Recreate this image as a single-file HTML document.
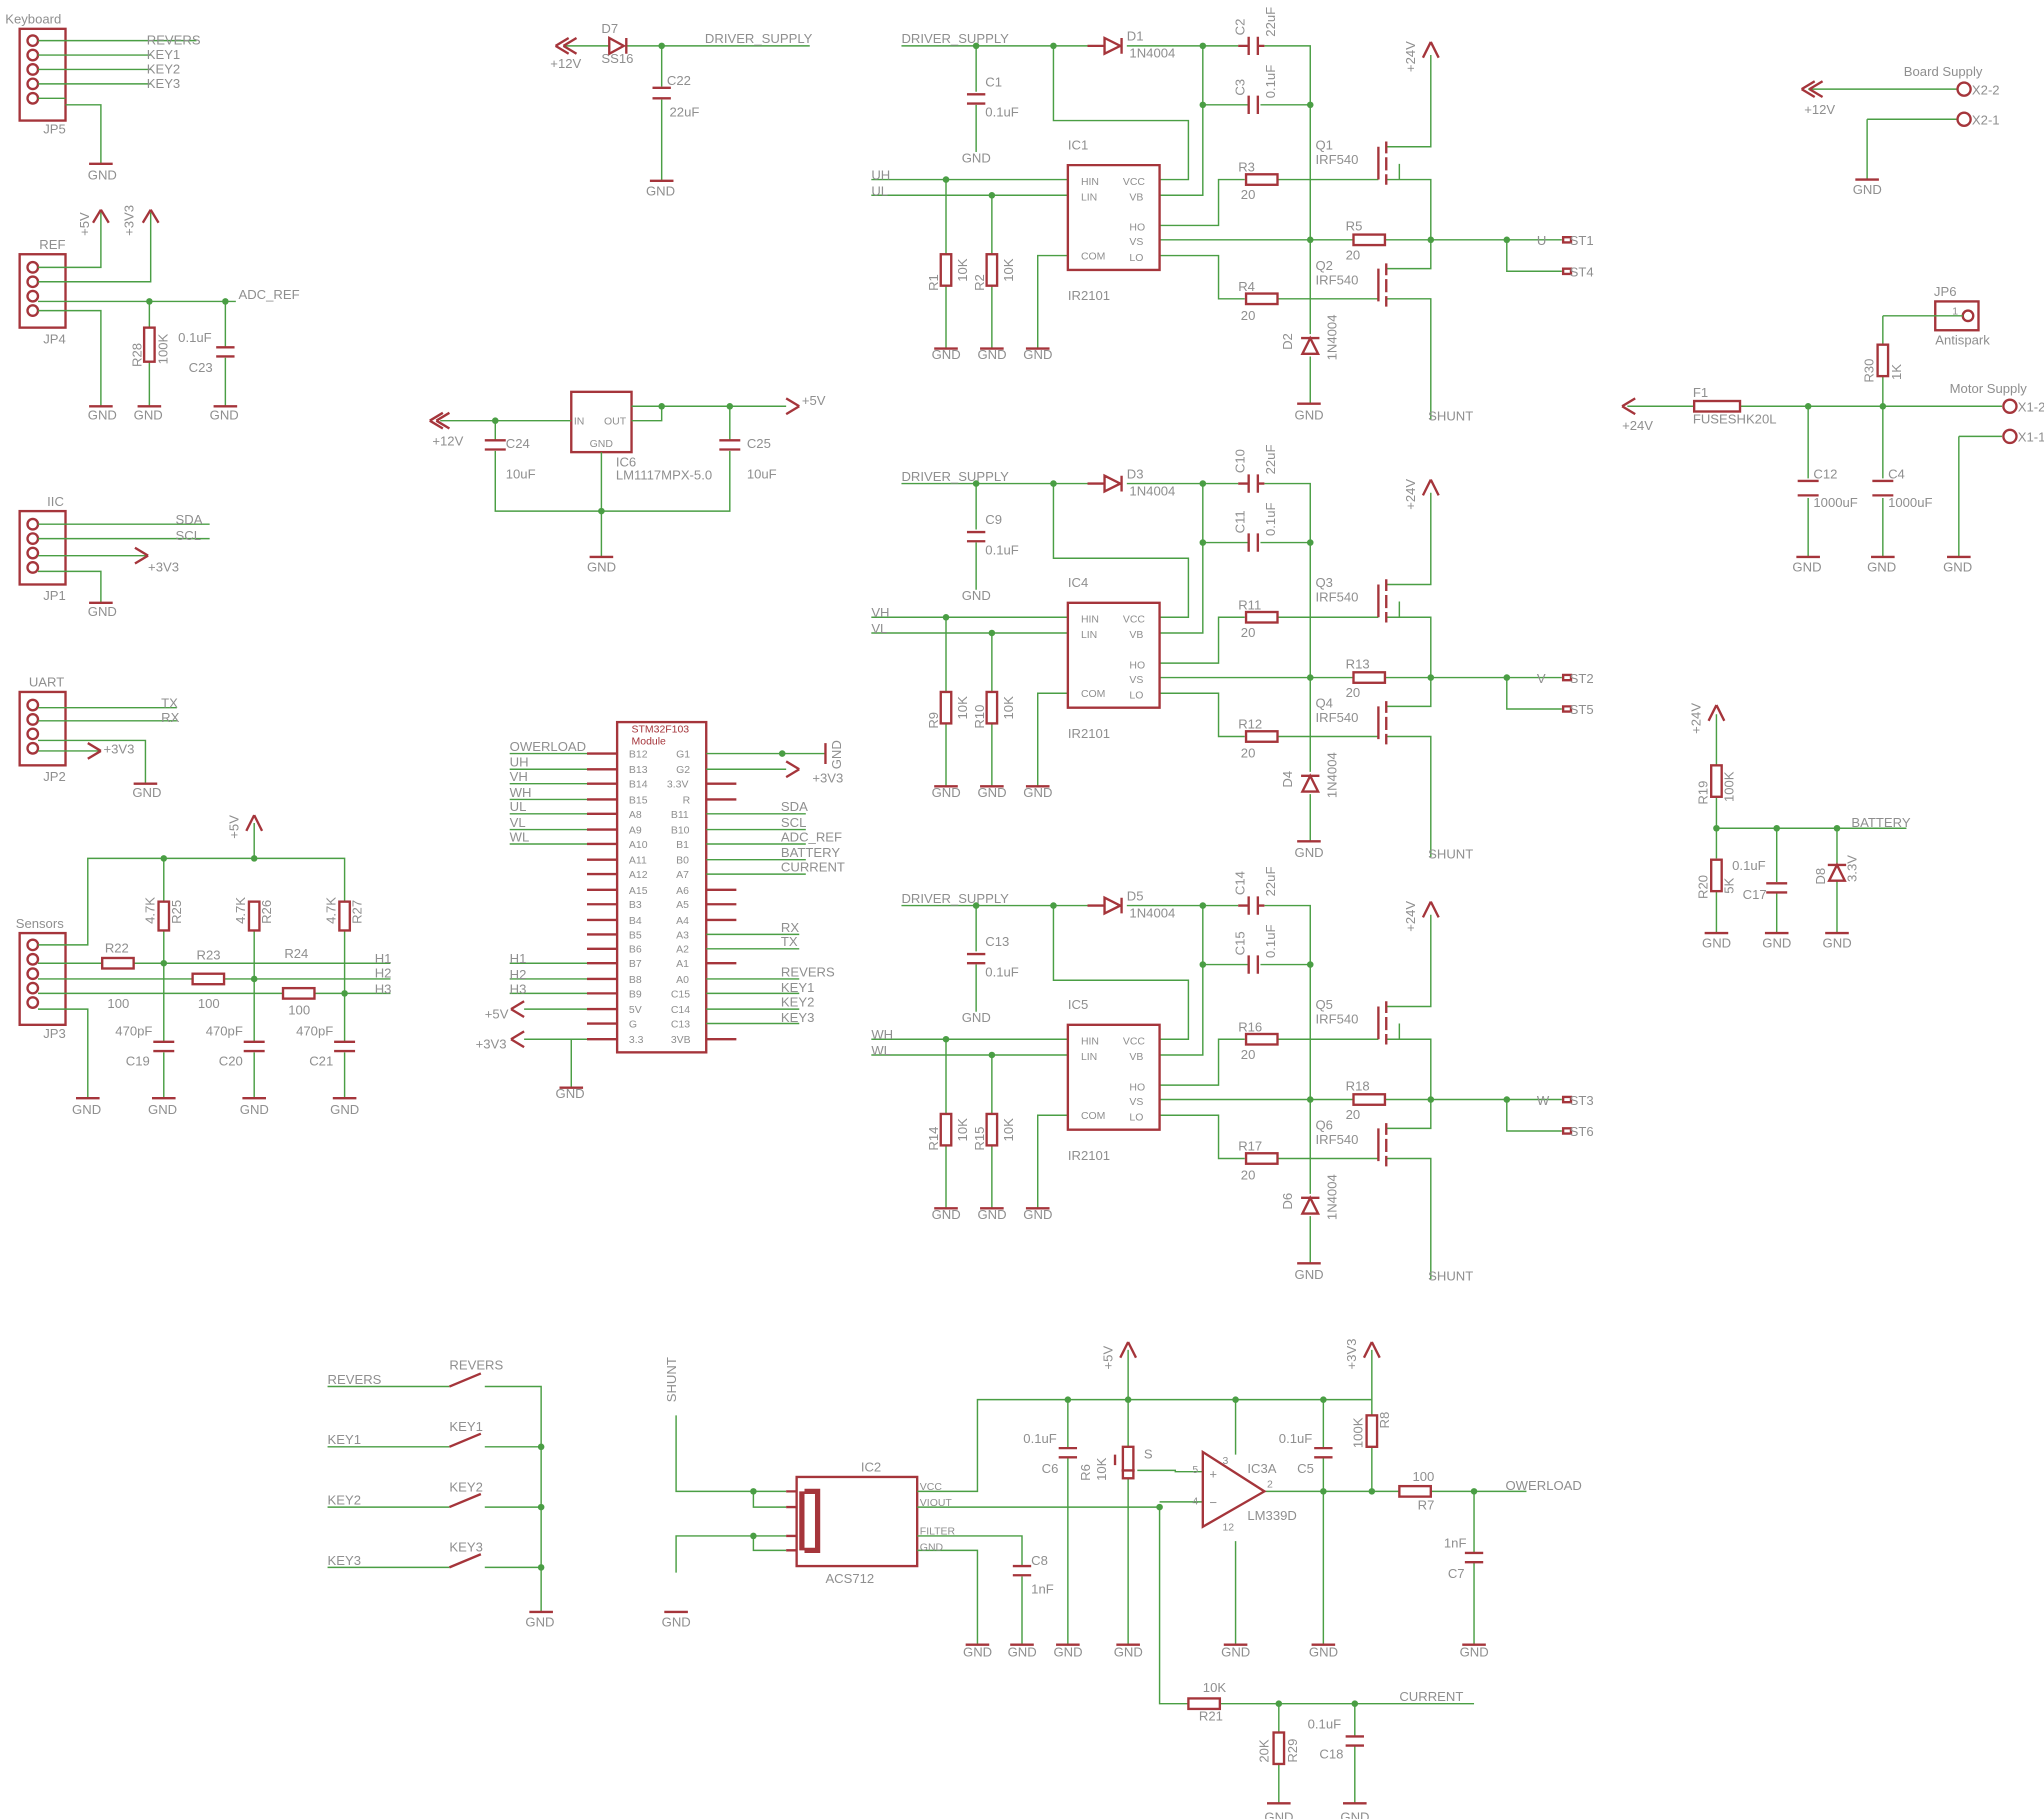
<!DOCTYPE html>
<html><head><meta charset="utf-8"><style>
html,body{margin:0;padding:0;background:#fff}
svg{display:block}
.w{stroke:#4a9e44;fill:none;stroke-width:1.1}
.p{stroke:#a5353b;fill:none;stroke-width:1.8}
.f{fill:#a5353b}
.j{fill:#4a9e44}
text{font-family:"Liberation Sans",sans-serif;font-size:10px;fill:#8f8f8f}
.s{font-size:8px}
</style></head><body>
<svg width="2044" height="1819" viewBox="0 0 1560 1388" preserveAspectRatio="none" xmlns="http://www.w3.org/2000/svg">
<defs>
<g id="drv">
<path class="w" d="M688 35H830M860 35H945M965 35H1000V255M1000 272V308M745 35V70M745 80V116M804 35V92H907V137H885M918 35V149H885M918 80H953M962 80H1000M665 137H815M665 149H815M722 137V194M722 218V266M757 149V194M757 218V266M815 195H792V266M885 172H930V137H950M975 137H1052M885 183H1033M1057 183H1150V207H1192M1150 183H1192M885 195H930V228H950M975 228H1052M1058 112H1092V42M1058 137H1092V183M1058 205H1092V183M1058 228H1092V320M1068 125V137"/>
<path class="p" d="M830 35H843M843 29V41L855 35Z M856 29V41M945 35H953M953 28V42M960 28V42M960 35H965M738 72H752M738 79H752M953 73V87M960 73V87M815 126H885V206H815Z M1052 112V137M1058 108V117M1058 120V130M1058 133V141M1052 205V230M1058 201V210M1058 213V223M1058 226V234M1092 32L1086 44M1092 32L1098 44M993 258H1007M1000 258L994 270H1006Z M1193 181h6v4h-6z M1193 205h6v4h-6z"/>
<rect class="p" x="718" y="194" width="8" height="24"/><rect class="p" x="753" y="194" width="8" height="24"/>
<rect class="p" x="951" y="133" width="24" height="8"/><rect class="p" x="1033" y="179" width="24" height="8"/><rect class="p" x="951" y="224" width="24" height="8"/>
<path class="p" d="M713 266H731M748 266H766M783 266H801M990 308H1008"/>
<circle class="j" cx="745" cy="35" r="2.5"/><circle class="j" cx="804" cy="35" r="2.5"/><circle class="j" cx="918" cy="35" r="2.5"/><circle class="j" cx="918" cy="80" r="2.5"/><circle class="j" cx="1000" cy="80" r="2.5"/><circle class="j" cx="722" cy="137" r="2.5"/><circle class="j" cx="757" cy="149" r="2.5"/><circle class="j" cx="1000" cy="183" r="2.5"/><circle class="j" cx="1092" cy="183" r="2.5"/><circle class="j" cx="1150" cy="183" r="2.5"/>
<text x="688" y="33">DRIVER_SUPPLY</text><text x="752" y="89">0.1uF</text>
<text x="825" y="141" class="s">HIN</text><text x="825" y="153" class="s">LIN</text><text x="825" y="198" class="s">COM</text>
<text x="857" y="141" class="s">VCC</text><text x="862" y="153" class="s">VB</text><text x="862" y="176" class="s">HO</text><text x="862" y="187" class="s">VS</text><text x="862" y="199" class="s">LO</text>
<text x="815" y="229">IR2101</text><text x="947" y="152">20</text><text x="1027" y="198">20</text><text x="947" y="244">20</text>
<text x="1004" y="125">IRF540</text><text x="1004" y="217">IRF540</text>
<text x="1090" y="321">SHUNT</text><text x="711" y="274">GND</text><text x="746" y="274">GND</text><text x="781" y="274">GND</text><text x="988" y="320">GND</text><text x="734" y="124">GND</text>
<text transform="translate(1080,55) rotate(-90)">+24V</text><text transform="translate(1020,275) rotate(-90)">1N4004</text>
<text transform="translate(738,215) rotate(-90)">10K</text><text transform="translate(773,215) rotate(-90)">10K</text>
<text transform="translate(973,75) rotate(-90)">0.1uF</text><text transform="translate(973,28) rotate(-90)">22uF</text>
</g>
</defs>

<use href="#drv"/>
<g><text x="862" y="44">1N4004</text><text x="860" y="31">D1</text><text x="815" y="114">IC1</text><text x="665" y="137">UH</text><text x="665" y="149">UL</text><text x="1173" y="187">U</text><text x="1198" y="187">ST1</text><text x="1198" y="211">ST4</text><text x="752" y="66">C1</text><text x="945" y="131">R3</text><text x="1027" y="176">R5</text><text x="945" y="222">R4</text><text x="1004" y="114">Q1</text><text x="1004" y="206">Q2</text><text transform="translate(716,222) rotate(-90)">R1</text><text transform="translate(751,222) rotate(-90)">R2</text><text transform="translate(950,27) rotate(-90)">C2</text><text transform="translate(950,73) rotate(-90)">C3</text><text transform="translate(986,267) rotate(-90)">D2</text></g>
<g transform="translate(0,334)"><use href="#drv"/><text x="862" y="44">1N4004</text><text x="860" y="31">D3</text><text x="815" y="114">IC4</text><text x="665" y="137">VH</text><text x="665" y="149">VL</text><text x="1173" y="187">V</text><text x="1198" y="187">ST2</text><text x="1198" y="211">ST5</text><text x="752" y="66">C9</text><text x="945" y="131">R11</text><text x="1027" y="176">R13</text><text x="945" y="222">R12</text><text x="1004" y="114">Q3</text><text x="1004" y="206">Q4</text><text transform="translate(716,222) rotate(-90)">R9</text><text transform="translate(751,222) rotate(-90)">R10</text><text transform="translate(950,27) rotate(-90)">C10</text><text transform="translate(950,73) rotate(-90)">C11</text><text transform="translate(986,267) rotate(-90)">D4</text></g>
<g transform="translate(0,656)"><use href="#drv"/><text x="862" y="44">1N4004</text><text x="860" y="31">D5</text><text x="815" y="114">IC5</text><text x="665" y="137">WH</text><text x="665" y="149">WL</text><text x="1173" y="187">W</text><text x="1198" y="187">ST3</text><text x="1198" y="211">ST6</text><text x="752" y="66">C13</text><text x="945" y="131">R16</text><text x="1027" y="176">R18</text><text x="945" y="222">R17</text><text x="1004" y="114">Q5</text><text x="1004" y="206">Q6</text><text transform="translate(716,222) rotate(-90)">R14</text><text transform="translate(751,222) rotate(-90)">R15</text><text transform="translate(950,27) rotate(-90)">C14</text><text transform="translate(950,73) rotate(-90)">C15</text><text transform="translate(986,267) rotate(-90)">D6</text></g>

<!-- Keyboard JP5 -->
<rect class="p" x="15" y="22" width="35" height="70"/>
<g class="p"><circle cx="25" cy="31" r="4"/><circle cx="25" cy="42" r="4"/><circle cx="25" cy="53" r="4"/><circle cx="25" cy="64" r="4"/><circle cx="25" cy="75" r="4"/></g>
<path class="w" d="M29 31H150M29 42H115M29 53H115M29 64H115M29 75H50M50 80H77V125"/><path class="p" d="M68 125H86"/>
<text x="4" y="18">Keyboard</text><text x="33" y="102">JP5</text><text x="112" y="34">REVERS</text><text x="112" y="45">KEY1</text><text x="112" y="56">KEY2</text><text x="112" y="67">KEY3</text><text x="67" y="137">GND</text>
<!-- REF JP4 -->
<rect class="p" x="15" y="194" width="35" height="56"/>
<g class="p"><circle cx="25" cy="204" r="4"/><circle cx="25" cy="215" r="4"/><circle cx="25" cy="226" r="4"/><circle cx="25" cy="237" r="4"/></g>
<path class="w" d="M29 204H77V162M29 215H115V162M29 230H180M29 237H77V310M114 230V250M114 276V310M172 230V265M172 273V310"/>
<path class="p" d="M77 160L71 170M77 160L83 170M115 160L109 170M115 160L121 170M165 265H179M165 272H179M68 310H86M105 310H123M163 310H181"/>
<rect class="p" x="110" y="250" width="8" height="26"/><circle class="j" cx="114" cy="230" r="2.5"/><circle class="j" cx="172" cy="230" r="2.5"/>
<text x="30" y="190">REF</text><text x="33" y="262">JP4</text><text x="182" y="228">ADC_REF</text><text x="136" y="261">0.1uF</text><text x="144" y="284">C23</text><text x="67" y="320">GND</text><text x="102" y="320">GND</text><text x="160" y="320">GND</text>
<text transform="translate(68,180) rotate(-90)">+5V</text><text transform="translate(102,180) rotate(-90)">+3V3</text><text transform="translate(108,280) rotate(-90)">R28</text><text transform="translate(128,278) rotate(-90)">100K</text>
<!-- IIC JP1 -->
<rect class="p" x="15" y="390" width="35" height="56"/>
<g class="p"><circle cx="25" cy="400" r="4"/><circle cx="25" cy="411" r="4"/><circle cx="25" cy="422" r="4"/><circle cx="25" cy="433" r="4"/></g>
<path class="w" d="M29 400H160M29 411H160M29 424H113M29 436H77V460"/><path class="p" d="M113 424L103 418M113 424L103 430M68 460H86"/>
<text x="36" y="386">IIC</text><text x="33" y="458">JP1</text><text x="134" y="400">SDA</text><text x="134" y="412">SCL</text><text x="113" y="436">+3V3</text><text x="67" y="470">GND</text>
<!-- UART JP2 -->
<rect class="p" x="15" y="528" width="35" height="56"/>
<g class="p"><circle cx="25" cy="538" r="4"/><circle cx="25" cy="549" r="4"/><circle cx="25" cy="560" r="4"/><circle cx="25" cy="571" r="4"/></g>
<path class="w" d="M29 540H135M29 550H135M29 573H77M29 565H111V598"/><path class="p" d="M77 573L67 567M77 573L67 579M102 598H120"/>
<text x="22" y="524">UART</text><text x="33" y="596">JP2</text><text x="123" y="540">TX</text><text x="123" y="551">RX</text><text x="79" y="575">+3V3</text><text x="101" y="608">GND</text>
<!-- Sensors JP3 -->
<rect class="p" x="15" y="712" width="35" height="70"/>
<g class="p"><circle cx="25" cy="721" r="4"/><circle cx="25" cy="732" r="4"/><circle cx="25" cy="743" r="4"/><circle cx="25" cy="754" r="4"/><circle cx="25" cy="765" r="4"/></g>
<path class="w" d="M29 721H67V655H263V688M125 655V688M194 655V628M29 735H78M102 735H298M29 747H147M171 747H298M29 758H216M240 758H298M29 770H67V838M125 710V795M194 710V795M263 710V795M125 803V838M194 803V838M263 803V838"/>
<path class="p" d="M194 622L188 634M194 622L200 634M117 795H133M117 802H133M186 795H202M186 802H202M255 795H271M255 802H271M58 838H76M116 838H134M185 838H203M254 838H272"/>
<rect class="p" x="78" y="731" width="24" height="8"/><rect class="p" x="147" y="743" width="24" height="8"/><rect class="p" x="216" y="754" width="24" height="8"/>
<rect class="p" x="121" y="688" width="8" height="22"/><rect class="p" x="190" y="688" width="8" height="22"/><rect class="p" x="259" y="688" width="8" height="22"/>
<g class="j"><circle cx="125" cy="655" r="2.5"/><circle cx="194" cy="655" r="2.5"/><circle cx="125" cy="735" r="2.5"/><circle cx="194" cy="747" r="2.5"/><circle cx="263" cy="758" r="2.5"/></g>
<text x="12" y="708">Sensors</text><text x="33" y="792">JP3</text><text x="80" y="727">R22</text><text x="150" y="732">R23</text><text x="217" y="731">R24</text><text x="82" y="769">100</text><text x="151" y="769">100</text><text x="220" y="774">100</text>
<text x="286" y="735">H1</text><text x="286" y="746">H2</text><text x="286" y="758">H3</text><text x="88" y="790">470pF</text><text x="157" y="790">470pF</text><text x="226" y="790">470pF</text><text x="96" y="813">C19</text><text x="167" y="813">C20</text><text x="236" y="813">C21</text>
<text x="55" y="850">GND</text><text x="113" y="850">GND</text><text x="183" y="850">GND</text><text x="252" y="850">GND</text>
<text transform="translate(182,640) rotate(-90)">+5V</text><text transform="translate(118,705) rotate(-90)">4.7K</text><text transform="translate(138,705) rotate(-90)">R25</text><text transform="translate(187,705) rotate(-90)">4.7K</text><text transform="translate(207,705) rotate(-90)">R26</text><text transform="translate(256,705) rotate(-90)">4.7K</text><text transform="translate(276,705) rotate(-90)">R27</text>
<!-- D7 / C22 -->
<path class="w" d="M430 35H465M478 35H618M505 35V66M505 76V138"/>
<path class="p" d="M430 35L440 29M430 35L440 41M424 35L434 29M424 35L434 41M465 29V41L476 35Z M478 29V41M498 67H512M498 75H512M496 138H514"/>
<circle class="j" cx="505" cy="35" r="2.5"/>
<text x="459" y="25">D7</text><text x="459" y="48">SS16</text><text x="538" y="33">DRIVER_SUPPLY</text><text x="509" y="65">C22</text><text x="511" y="89">22uF</text><text x="420" y="52">+12V</text><text x="493" y="149">GND</text>
<!-- Regulator IC6 -->
<rect class="p" x="436" y="299" width="46" height="46"/>
<path class="w" d="M336 321H436M482 310H600M505 310V321H482M378 321V336M378 344V390H557V344M557 336V310M459 345V425"/>
<path class="p" d="M610 310L600 304M610 310L600 316M333 321L343 315M333 321L343 327M328 321L338 315M328 321L338 327M370 336H386M370 343H386M549 336H565M549 343H565M450 425H468"/>
<g class="j"><circle cx="378" cy="321" r="2.5"/><circle cx="505" cy="310" r="2.5"/><circle cx="557" cy="310" r="2.5"/><circle cx="459" cy="390" r="2.5"/></g>
<text x="438" y="324" class="s">IN</text><text x="461" y="324" class="s">OUT</text><text x="450" y="341" class="s">GND</text><text x="470" y="356">IC6</text><text x="470" y="366">LM1117MPX-5.0</text><text x="612" y="309">+5V</text><text x="330" y="340">+12V</text><text x="386" y="342">C24</text><text x="386" y="365">10uF</text><text x="570" y="342">C25</text><text x="570" y="365">10uF</text><text x="448" y="436">GND</text>
<!-- STM32 module -->
<rect class="p" x="471" y="551" width="68" height="252"/>
<text x="482" y="559" class="s" style="fill:#a5353b">STM32F103</text><text x="482" y="568" class="s" style="fill:#a5353b">Module</text>
<path class="w" d="M389 575H448M389 587H448M389 598H448M389 610H448M389 621H448M389 633H448M389 644H448M389 735H448M389 747H448M389 758H448M400 770H448M400 793H448M436 793V830M539 575H630M539 587H600M539 621H615M539 633H615M539 644H615M539 656H615M539 667H615M539 713H610M539 724H610M539 747H610M539 758H610M539 770H610M539 781H610"/>
<path class="p" d="M448 575H471M448 587H471M448 598H471M448 610H471M448 621H471M448 633H471M448 644H471M448 656H471M448 667H471M448 679H471M448 690H471M448 702H471M448 713H471M448 724H471M448 735H471M448 747H471M448 758H471M448 770H471M448 781H471M448 793H471M539 598H562M539 610H562M539 679H562M539 690H562M539 702H562M539 735H562M539 793H562M630 567V583M610 587L600 581M610 587L600 593M390 770L400 764M390 770L400 776M390 793L400 787M390 793L400 799M427 830H445"/>
<circle class="j" cx="597" cy="575" r="2.5"/>
<g><text x="480" y="578" class="s">B12</text><text x="480" y="590" class="s">B13</text><text x="480" y="601" class="s">B14</text><text x="480" y="613" class="s">B15</text><text x="480" y="624" class="s">A8</text><text x="480" y="636" class="s">A9</text><text x="480" y="647" class="s">A10</text><text x="480" y="659" class="s">A11</text><text x="480" y="670" class="s">A12</text><text x="480" y="682" class="s">A15</text><text x="480" y="693" class="s">B3</text><text x="480" y="705" class="s">B4</text><text x="480" y="716" class="s">B5</text><text x="480" y="727" class="s">B6</text><text x="480" y="738" class="s">B7</text><text x="480" y="750" class="s">B8</text><text x="480" y="761" class="s">B9</text><text x="480" y="773" class="s">5V</text><text x="480" y="784" class="s">G</text><text x="480" y="796" class="s">3.3</text>
<text x="516" y="578" class="s">G1</text><text x="516" y="590" class="s">G2</text><text x="509" y="601" class="s">3.3V</text><text x="521" y="613" class="s">R</text><text x="512" y="624" class="s">B11</text><text x="512" y="636" class="s">B10</text><text x="516" y="647" class="s">B1</text><text x="516" y="659" class="s">B0</text><text x="516" y="670" class="s">A7</text><text x="516" y="682" class="s">A6</text><text x="516" y="693" class="s">A5</text><text x="516" y="705" class="s">A4</text><text x="516" y="716" class="s">A3</text><text x="516" y="727" class="s">A2</text><text x="516" y="738" class="s">A1</text><text x="516" y="750" class="s">A0</text><text x="512" y="761" class="s">C15</text><text x="512" y="773" class="s">C14</text><text x="512" y="784" class="s">C13</text><text x="512" y="796" class="s">3VB</text></g>
<text x="389" y="573">OWERLOAD</text><text x="389" y="585">UH</text><text x="389" y="596">VH</text><text x="389" y="608">WH</text><text x="389" y="619">UL</text><text x="389" y="631">VL</text><text x="389" y="642">WL</text><text x="389" y="735">H1</text><text x="389" y="747">H2</text><text x="389" y="758">H3</text><text x="370" y="777">+5V</text><text x="363" y="800">+3V3</text><text x="424" y="838">GND</text>
<text x="596" y="619">SDA</text><text x="596" y="631">SCL</text><text x="596" y="642">ADC_REF</text><text x="596" y="654">BATTERY</text><text x="596" y="665">CURRENT</text><text x="596" y="711">RX</text><text x="596" y="722">TX</text><text x="596" y="745">REVERS</text><text x="596" y="757">KEY1</text><text x="596" y="768">KEY2</text><text x="596" y="780">KEY3</text><text x="620" y="597">+3V3</text><text transform="translate(642,587) rotate(-90)">GND</text>
<!-- Board supply -->
<path class="w" d="M1380 68H1494M1425 91H1494M1425 91V137"/><path class="p" d="M1375 68L1385 62M1375 68L1385 74M1381 68L1391 62M1381 68L1391 74M1416 137H1434"/>
<circle class="p" cx="1499" cy="68" r="5"/><circle class="p" cx="1499" cy="91" r="5"/>
<text x="1453" y="58">Board Supply</text><text x="1505" y="72">X2-2</text><text x="1505" y="95">X2-1</text><text x="1377" y="87">+12V</text><text x="1414" y="148">GND</text>
<!-- Antispark / motor supply -->
<rect class="p" x="1477" y="230" width="33" height="22"/><circle class="p" cx="1502" cy="241" r="4"/>
<path class="w" d="M1242 310H1293M1328 310H1528M1437 241H1498M1437 241V263M1437 287V310M1380 310V365M1380 380V425M1437 310V365M1437 380V425M1495 333H1528M1495 333V425"/>
<path class="p" d="M1238 310L1248 304M1238 310L1248 316M1372 367H1388M1372 378H1388M1429 367H1445M1429 378H1445M1371 425H1389M1428 425H1446M1486 425H1504"/>
<rect class="p" x="1293" y="306" width="35" height="8"/><rect class="p" x="1433" y="263" width="8" height="24"/>
<circle class="p" cx="1534" cy="310" r="5"/><circle class="p" cx="1534" cy="333" r="5"/><circle class="j" cx="1380" cy="310" r="2.5"/><circle class="j" cx="1437" cy="310" r="2.5"/>
<text x="1476" y="226">JP6</text><text x="1490" y="240" class="s">1</text><text x="1477" y="263">Antispark</text><text x="1488" y="300">Motor Supply</text><text x="1540" y="314">X1-2</text><text x="1540" y="337">X1-1</text><text x="1292" y="303">F1</text><text x="1292" y="323">FUSESHK20L</text><text x="1238" y="328">+24V</text><text x="1384" y="365">C12</text><text x="1384" y="387">1000uF</text><text x="1441" y="365">C4</text><text x="1441" y="387">1000uF</text><text x="1368" y="436">GND</text><text x="1425" y="436">GND</text><text x="1483" y="436">GND</text>
<text transform="translate(1430,292) rotate(-90)">R30</text><text transform="translate(1451,290) rotate(-90)">1K</text>
<!-- Battery -->
<path class="w" d="M1310 545V584M1310 608V655M1310 632H1455M1310 680V712M1356 632V673M1356 681V712M1402 632V660M1402 672V712"/>
<path class="p" d="M1310 538L1304 550M1310 538L1316 550M1348 674H1364M1348 681H1364M1395 660H1409M1402 660L1396 672H1408ZM1301 712H1319M1347 712H1365M1393 712H1411"/>
<rect class="p" x="1306" y="584" width="8" height="24"/><rect class="p" x="1306" y="656" width="8" height="24"/>
<circle class="j" cx="1310" cy="632" r="2.5"/><circle class="j" cx="1356" cy="632" r="2.5"/><circle class="j" cx="1402" cy="632" r="2.5"/>
<text x="1413" y="631">BATTERY</text><text x="1322" y="664">0.1uF</text><text x="1330" y="686">C17</text><text x="1299" y="723">GND</text><text x="1345" y="723">GND</text><text x="1391" y="723">GND</text>
<text transform="translate(1298,560) rotate(-90)">+24V</text><text transform="translate(1303,614) rotate(-90)">R19</text><text transform="translate(1323,612) rotate(-90)">100K</text><text transform="translate(1303,686) rotate(-90)">R20</text><text transform="translate(1323,682) rotate(-90)">5K</text><text transform="translate(1393,675) rotate(-90)">D8</text><text transform="translate(1417,673) rotate(-90)">3.3V</text>
<!-- Keys -->
<path class="w" d="M250 1058H343M370 1058H413V1230M250 1104H343M370 1104H413M250 1150H343M370 1150H413M250 1196H343M370 1196H413"/>
<path class="p" d="M343 1058L367 1048M343 1104L367 1094M343 1150L367 1140M343 1196L367 1186M404 1230H422"/>
<circle class="j" cx="413" cy="1104" r="2.5"/><circle class="j" cx="413" cy="1150" r="2.5"/><circle class="j" cx="413" cy="1196" r="2.5"/>
<text x="250" y="1056">REVERS</text><text x="250" y="1102">KEY1</text><text x="250" y="1148">KEY2</text><text x="250" y="1194">KEY3</text><text x="343" y="1045">REVERS</text><text x="343" y="1092">KEY1</text><text x="343" y="1138">KEY2</text><text x="343" y="1184">KEY3</text><text x="401" y="1241">GND</text>
<!-- ACS712 / comparator -->
<rect class="p" x="608" y="1127" width="92" height="68"/>
<path class="p" d="M612 1138V1183M614 1138H624V1183H614" style="stroke-width:4"/>
<path class="w" d="M516 1080V1138H600M516 1200V1172H600M575 1138V1150H600M575 1172V1183H600M700 1138H746V1068H1047V1080M700 1150H885M700 1172H780V1195M780 1203V1255M700 1183H746V1255M815 1068V1105M815 1112V1255M861 1030V1104M861 1128V1255M868 1122H897V1123H918M885 1150V1300H907M931 1300H1125M918 1146H885M943 1068V1110M943 1176V1255M965 1138H1068M1092 1138H1165M1010 1068V1105M1010 1112V1255M1047 1030V1080M1047 1104V1138M1125 1138V1185M1125 1192V1255M976 1300V1322M976 1346V1376M1034 1300V1325M1034 1332V1376"/>
<path class="p" d="M600 1138H608M600 1150H608M600 1172H608M600 1183H608M918 1108V1165L965 1138Z M808 1105H822M808 1112H822M773 1195H787M773 1202H787M1003 1105H1017M1003 1112H1017M1118 1185H1132M1118 1192H1132M1027 1325H1041M1027 1332H1041M861 1024L855 1036M861 1024L867 1036M1047 1024L1041 1036M1047 1024L1053 1036M507 1230H525M737 1255H755M771 1255H789M806 1255H824M852 1255H870M934 1255H952M1001 1255H1019M1116 1255H1134M967 1376H985M1025 1376H1043M866 1122H856M851 1110L851 1118"/>
<rect class="p" x="857" y="1104" width="8" height="24"/><rect class="p" x="1043" y="1080" width="8" height="24"/><rect class="p" x="1068" y="1134" width="24" height="8"/><rect class="p" x="907" y="1296" width="24" height="8"/><rect class="p" x="972" y="1322" width="8" height="24"/>
<g class="j"><circle cx="575" cy="1138" r="2.5"/><circle cx="575" cy="1172" r="2.5"/><circle cx="815" cy="1068" r="2.5"/><circle cx="861" cy="1068" r="2.5"/><circle cx="943" cy="1068" r="2.5"/><circle cx="1010" cy="1068" r="2.5"/><circle cx="885" cy="1150" r="2.5"/><circle cx="1010" cy="1138" r="2.5"/><circle cx="1047" cy="1138" r="2.5"/><circle cx="1125" cy="1138" r="2.5"/><circle cx="976" cy="1300" r="2.5"/><circle cx="1034" cy="1300" r="2.5"/></g>
<text x="657" y="1123">IC2</text><text x="630" y="1208">ACS712</text><text x="702" y="1137" class="s">VCC</text><text x="702" y="1149" class="s">VIOUT</text><text x="702" y="1171" class="s">FILTER</text><text x="702" y="1183" class="s">GND</text>
<text x="952" y="1124">IC3A</text><text x="952" y="1160">LM339D</text><text x="923" y="1128">+</text><text x="923" y="1150">−</text><text x="910" y="1124" class="s">5</text><text x="910" y="1148" class="s">4</text><text x="933" y="1117" class="s">3</text><text x="967" y="1135" class="s">2</text><text x="933" y="1168" class="s">12</text>
<text x="781" y="1101">0.1uF</text><text x="795" y="1124">C6</text><text x="976" y="1101">0.1uF</text><text x="990" y="1124">C5</text><text x="787" y="1194">C8</text><text x="787" y="1216">1nF</text><text x="1078" y="1130">100</text><text x="1082" y="1152">R7</text><text x="1149" y="1137">OWERLOAD</text><text x="1102" y="1181">1nF</text><text x="1105" y="1204">C7</text><text x="873" y="1113">S</text>
<text x="918" y="1291">10K</text><text x="915" y="1313">R21</text><text x="1068" y="1298">CURRENT</text><text x="998" y="1319">0.1uF</text><text x="1007" y="1342">C18</text>
<text x="505" y="1241">GND</text><text x="735" y="1264">GND</text><text x="769" y="1264">GND</text><text x="804" y="1264">GND</text><text x="850" y="1264">GND</text><text x="932" y="1264">GND</text><text x="999" y="1264">GND</text><text x="1114" y="1264">GND</text><text x="965" y="1390">GND</text><text x="1023" y="1390">GND</text>
<text transform="translate(516,1070) rotate(-90)">SHUNT</text><text transform="translate(849,1045) rotate(-90)">+5V</text><text transform="translate(1035,1045) rotate(-90)">+3V3</text><text transform="translate(832,1130) rotate(-90)">R6</text><text transform="translate(844,1130) rotate(-90)">10K</text><text transform="translate(1040,1105) rotate(-90)">100K</text><text transform="translate(1060,1090) rotate(-90)">R8</text><text transform="translate(968,1345) rotate(-90)">20K</text><text transform="translate(990,1345) rotate(-90)">R29</text>
</svg>
</body></html>
